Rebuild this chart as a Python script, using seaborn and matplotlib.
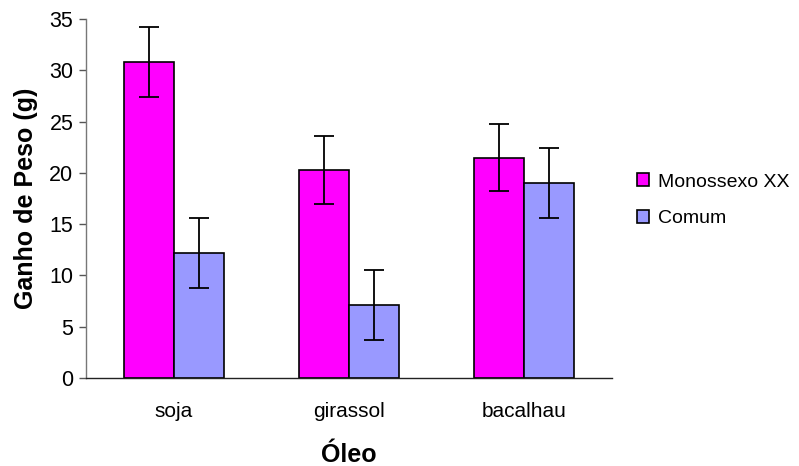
import numpy as np
import pandas as pd
import matplotlib
matplotlib.use("Agg")
import matplotlib.pyplot as plt
import seaborn as sns
from matplotlib.ticker import FixedLocator

# Data
oleos = ["soja", "girassol", "bacalhau"]
grupos = ["Monossexo XX", "Comum"]
monossexo = [30.8, 20.3, 21.5]
comum = [12.2, 7.1, 19.0]
erro_monossexo = [3.4, 3.3, 3.3]
erro_comum = [3.4, 3.4, 3.4]

cores = {"Monossexo XX": "#FF00FF", "Comum": "#9999FF"}

df = pd.DataFrame({
    "Óleo": oleos * 2,
    "Grupo": [grupos[0]] * 3 + [grupos[1]] * 3,
    "Ganho": monossexo + comum,
    "Erro": erro_monossexo + erro_comum,
})

sns.set_style("white")
plt.rcParams["font.family"] = ["Liberation Sans", "DejaVu Sans"]
plt.rcParams["text.color"] = "black"
plt.rcParams["axes.labelcolor"] = "black"
plt.rcParams["xtick.color"] = "black"
plt.rcParams["ytick.color"] = "black"

fig = plt.figure(figsize=(7.99, 4.66), dpi=100)
ax = fig.add_axes([0.1076, 0.189, 0.766 - 0.1076, 0.959 - 0.189])

sns.barplot(data=df, x="Óleo", y="Ganho", hue="Grupo", palette=cores,
            width=0.57, gap=0, errorbar=None, edgecolor="black",
            linewidth=1.2, saturation=1, ax=ax)

# error bars at the centre of each bar
for patch, (_, row) in zip(ax.patches, df.iterrows()):
    xc = patch.get_x() + patch.get_width() / 2
    ax.errorbar(xc, row["Ganho"], yerr=row["Erro"], fmt="none",
                ecolor="black", elinewidth=1.3, capsize=7, capthick=1.3)

ax.set_ylim(0, 35)
ax.set_xlim(-0.5, 2.5)
ax.set_yticks(np.arange(0, 36, 5))
ax.xaxis.set_minor_locator(FixedLocator([-0.5, 0.5, 1.5, 2.5]))
ax.tick_params(axis="x", which="major", length=0, labelsize=15, pad=17)
ax.tick_params(axis="x", which="minor", length=5, color="#555555", width=1)
ax.tick_params(axis="y", length=5, color="#555555", width=1, labelsize=15.5,
               left=True, pad=4)

for side in ["top", "right"]:
    ax.spines[side].set_visible(False)
ax.spines["left"].set_color("#777777")
ax.spines["bottom"].set_color("#222222")
for side in ["left", "bottom"]:
    ax.spines[side].set_linewidth(1)

ax.set_xlabel("Óleo", fontsize=18, fontweight="bold", labelpad=16)
ax.set_ylabel("Ganho de Peso (g)", fontsize=18, fontweight="bold", labelpad=8)

leg = ax.legend(loc="center left", bbox_to_anchor=(0.797, 0.57),
                bbox_transform=fig.transFigure, frameon=False, fontsize=14,
                borderpad=0, borderaxespad=0,
                handlelength=0.65, handleheight=0.65, handletextpad=0.45,
                labelspacing=1.0)

fig.savefig("out.png", dpi=100)
